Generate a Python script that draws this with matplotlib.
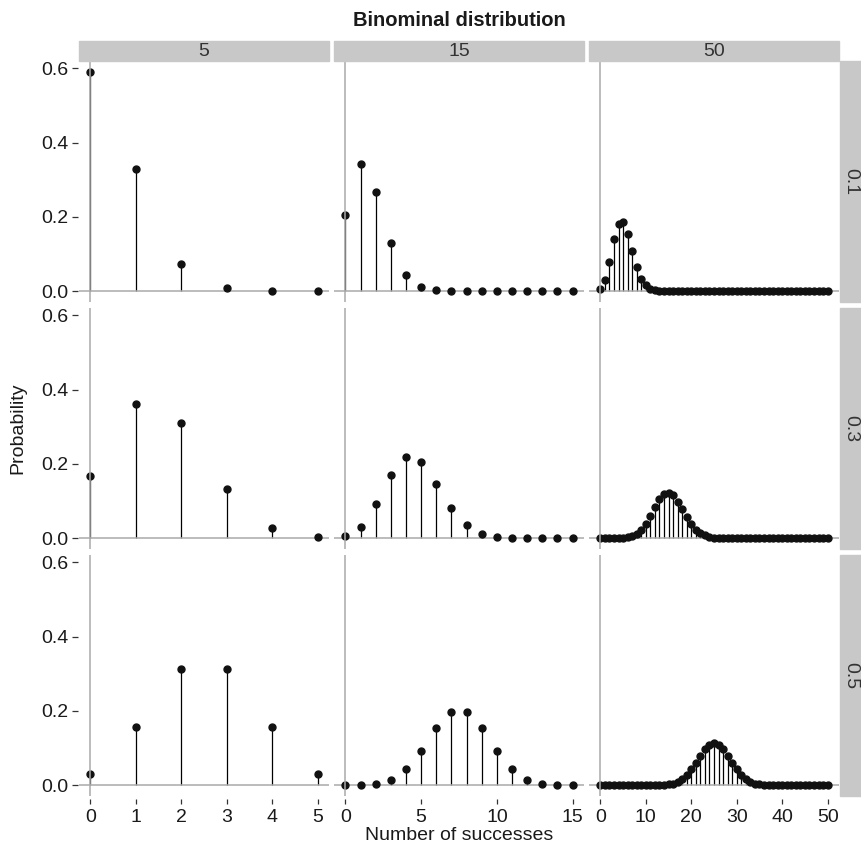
import numpy as np
import matplotlib
matplotlib.use("Agg")
import matplotlib.pyplot as plt

plt.rcParams['font.family'] = ['Liberation Sans', 'DejaVu Sans']

# facets: columns = number of trials, rows = success probability
trials = [5, 15, 50]
probs = ["0.1", "0.3", "0.5"]

# probabilities, one list per panel
p01_n5 = [0.590, 0.328, 0.073, 0.008, 0.000, 0.000]
p03_n5 = [0.168, 0.360, 0.309, 0.132, 0.028, 0.002]
p05_n5 = [0.031, 0.156, 0.313, 0.313, 0.156, 0.031]

p01_n15 = [0.206, 0.343, 0.267, 0.129, 0.043, 0.010, 0.002, 0.000,
           0.000, 0.000, 0.000, 0.000, 0.000, 0.000, 0.000, 0.000]
p03_n15 = [0.005, 0.031, 0.092, 0.170, 0.219, 0.206, 0.147, 0.081,
           0.035, 0.012, 0.003, 0.001, 0.000, 0.000, 0.000, 0.000]
p05_n15 = [0.000, 0.000, 0.003, 0.014, 0.042, 0.092, 0.153, 0.196,
           0.196, 0.153, 0.092, 0.042, 0.014, 0.003, 0.000, 0.000]

p01_n50 = [0.005, 0.029, 0.078, 0.139, 0.181, 0.185, 0.154, 0.108,
           0.064, 0.033, 0.015, 0.006, 0.002, 0.001, 0.000, 0.000,
           0.000, 0.000, 0.000, 0.000, 0.000, 0.000, 0.000, 0.000,
           0.000, 0.000, 0.000, 0.000, 0.000, 0.000, 0.000, 0.000,
           0.000, 0.000, 0.000, 0.000, 0.000, 0.000, 0.000, 0.000,
           0.000, 0.000, 0.000, 0.000, 0.000, 0.000, 0.000, 0.000,
           0.000, 0.000, 0.000]
p03_n50 = [0.000, 0.000, 0.000, 0.000, 0.000, 0.001, 0.002, 0.005,
           0.011, 0.022, 0.039, 0.060, 0.084, 0.105, 0.119, 0.122,
           0.115, 0.098, 0.077, 0.056, 0.037, 0.023, 0.013, 0.007,
           0.003, 0.001, 0.001, 0.000, 0.000, 0.000, 0.000, 0.000,
           0.000, 0.000, 0.000, 0.000, 0.000, 0.000, 0.000, 0.000,
           0.000, 0.000, 0.000, 0.000, 0.000, 0.000, 0.000, 0.000,
           0.000, 0.000, 0.000]
p05_n50 = [0.000, 0.000, 0.000, 0.000, 0.000, 0.000, 0.000, 0.000,
           0.000, 0.000, 0.000, 0.000, 0.000, 0.000, 0.001, 0.002,
           0.004, 0.009, 0.016, 0.027, 0.042, 0.060, 0.079, 0.096,
           0.108, 0.112, 0.108, 0.096, 0.079, 0.060, 0.042, 0.027,
           0.016, 0.009, 0.004, 0.002, 0.001, 0.000, 0.000, 0.000,
           0.000, 0.000, 0.000, 0.000, 0.000, 0.000, 0.000, 0.000,
           0.000, 0.000, 0.000]

panels = [[p01_n5, p01_n15, p01_n50],
          [p03_n5, p03_n15, p03_n50],
          [p05_n5, p05_n15, p05_n50]]

xticks = [[0, 1, 2, 3, 4, 5], [0, 5, 10, 15], [0, 10, 20, 30, 40, 50]]
yticks = [0.0, 0.2, 0.4, 0.6]

W, H = 862, 850
fig = plt.figure(figsize=(W / 100, H / 100), dpi=100)

# panel layout in pixels
col_left = [79, 334, 589]
col_w = 250
row_top = [61, 308, 555]
row_h = 241
strip_col = "#c8c8c8"
line_col = "#a9a9a9"
txt_col = "#1a1a1a"


def fbox(x0, y0, w, h):
    return [x0 / W, 1 - (y0 + h) / H, w / W, h / H]


for i in range(3):
    for j in range(3):
        ax = fig.add_axes(fbox(col_left[j], row_top[i], col_w, row_h))
        vals = panels[i][j]
        k = np.arange(len(vals))
        ax.vlines(k, 0, vals, color="black", lw=0.9, zorder=1)
        ax.axhline(0, color=line_col, lw=1.1, zorder=2)
        ax.plot(k, vals, "o", color="#111111", ms=5, zorder=3)
        ax.axvline(0, color=line_col, lw=1.1, zorder=4)

        n = trials[j]
        ax.set_xlim(-0.05 * n, 1.05 * n)
        ax.set_ylim(-0.0295, 0.62)

        for s in ax.spines.values():
            s.set_visible(False)
        ax.spines["left"].set_position(("outward", 1))
        ax.spines["bottom"].set_position(("outward", 2))

        ax.tick_params(direction="out", color="#333333", width=0.9,
                       labelsize=14, labelcolor=txt_col)
        ax.tick_params(axis="y", length=4.3, pad=2)
        ax.tick_params(axis="x", length=3.8, pad=3.5)

        ax.set_yticks(yticks)
        if j == 0:
            ax.set_yticklabels(["%.1f" % v for v in yticks])
        else:
            ax.tick_params(axis="y", left=False, labelleft=False)
        ax.set_xticks(xticks[j])
        if i == 2:
            ax.set_xticklabels([str(v) for v in xticks[j]])
        else:
            ax.tick_params(axis="x", bottom=False, labelbottom=False)

# top strips
for j in range(3):
    fig.patches.append(plt.Rectangle((col_left[j] / W, 1 - 61 / H), col_w / W, 20 / H,
                                     transform=fig.transFigure, color=strip_col, zorder=0))
    fig.text((col_left[j] + col_w / 2) / W, 1 - 51.5 / H, str(trials[j]),
             ha="center", va="center", fontsize=14, color="#333333")

# right strips
for i in range(3):
    fig.patches.append(plt.Rectangle((840 / W, 1 - (row_top[i] + row_h) / H), 22 / W, row_h / H,
                                     transform=fig.transFigure, color=strip_col, zorder=0))
    fig.text(851 / W, 1 - (row_top[i] + row_h / 2) / H, probs[i], rotation=270,
             ha="center", va="center", fontsize=14, color="#333333")

fig.text(459 / W, 1 - 20 / H, "Binominal distribution", ha="center", va="center",
         fontsize=14.5, fontweight="bold", color=txt_col)
fig.text(459 / W, 1 - 836 / H, "Number of successes", ha="center", va="center",
         fontsize=14, color=txt_col)
fig.text(18 / W, 1 - 428 / H, "Probability", ha="center", va="center",
         rotation=90, fontsize=14, color=txt_col)

fig.savefig("out.png", dpi=100)
